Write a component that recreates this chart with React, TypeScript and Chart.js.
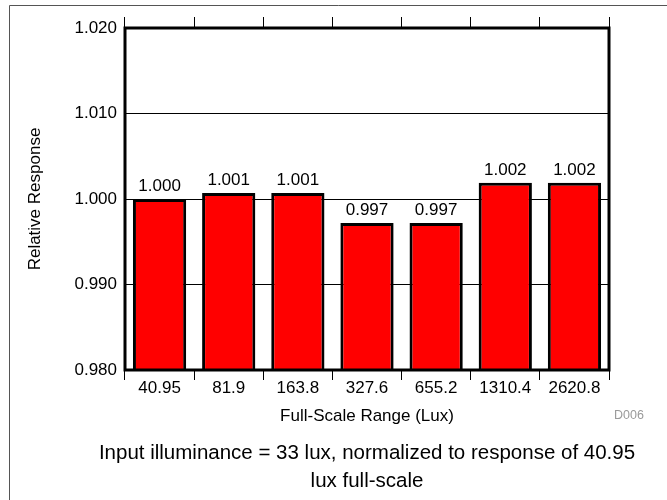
import React, { useEffect, useRef } from "react";
import { Chart, registerables } from "chart.js";

Chart.register(...registerables);

const categories = ["40.95", "81.9", "163.8", "327.6", "655.2", "1310.4", "2620.8"];
const relativeResponse = [1.0, 1.0007, 1.0007, 0.9972, 0.9972, 1.0019, 1.0019];
const valueLabels = ["1.000", "1.001", "1.001", "0.997", "0.997", "1.002", "1.002"];
const yMin = 0.98;
const yMax = 1.02;
const yStep = 0.01;
const yTitle = "Relative Response";
const xTitle = "Full-Scale Range (Lux)";
const captionLines = ["Input illuminance = 33 lux, normalized to response of 40.95", "lux full-scale"];
const docId = "D006";

const FONT = "'Liberation Sans', Arial, Helvetica, sans-serif";

const decorPlugin = {
  id: "decor",
  beforeDraw(chart: any) {
    const ctx = chart.ctx;
    ctx.save();
    ctx.fillStyle = "#fff";
    ctx.fillRect(0, 0, chart.width, chart.height);
    ctx.strokeStyle = "#555";
    ctx.lineWidth = 1;
    ctx.beginPath();
    ctx.moveTo(9.5, chart.height);
    ctx.lineTo(9.5, 5.5);
    ctx.lineTo(chart.width, 5.5);
    ctx.stroke();
    ctx.restore();
  },
  afterDatasetsDraw(chart: any) {
    const ctx = chart.ctx;
    const area = chart.chartArea;
    ctx.save();
    // plot frame
    ctx.strokeStyle = "#000";
    ctx.lineWidth = 3;
    ctx.strokeRect(area.left, area.top, area.right - area.left, area.bottom - area.top);
    // value labels
    const meta = chart.getDatasetMeta(0);
    ctx.fillStyle = "#000";
    ctx.font = `17px ${FONT}`;
    ctx.textAlign = "center";
    ctx.textBaseline = "alphabetic";
    meta.data.forEach((bar: any, i: number) => {
      ctx.fillText(valueLabels[i], bar.x, bar.y - 8);
    });
    // doc id
    ctx.fillStyle = "#9a9a9a";
    ctx.font = `12.5px ${FONT}`;
    ctx.textBaseline = "middle";
    ctx.fillText(docId, 629, 416);
    // caption
    ctx.fillStyle = "#000";
    ctx.font = `20.5px ${FONT}`;
    captionLines.forEach((line, i) => {
      ctx.fillText(line, 367, 453 + i * 28);
    });
    ctx.restore();
  },
};

export default function App() {
  const canvasRef = useRef<HTMLCanvasElement | null>(null);

  useEffect(() => {
    if (!canvasRef.current) return;
    const chart = new Chart(canvasRef.current, {
      type: "bar",
      data: {
        labels: categories,
        datasets: [
          {
            data: relativeResponse,
            backgroundColor: "#ff0000",
            borderColor: "#000000",
            borderWidth: 3,
            borderSkipped: false,
            barPercentage: 0.77,
            categoryPercentage: 1.0,
          },
        ],
      },
      options: {
        responsive: false,
        animation: false,
        devicePixelRatio: 1,
        layout: { padding: { left: 0, right: 58, top: 0, bottom: 70 } },
        plugins: {
          legend: { display: false },
          tooltip: { enabled: false },
          title: { display: false },
        },
        scales: {
          x: {
            type: "category",
            position: "bottom",
            offset: true,
            grid: {
              display: true,
              offset: true,
              drawOnChartArea: false,
              drawTicks: true,
              tickLength: 10,
              color: "#000",
              lineWidth: 1,
            },
            border: { display: false },
            ticks: {
              color: "#000",
              font: { family: FONT, size: 17 },
              padding: -2,
              maxRotation: 0,
              autoSkip: false,
            },
            title: {
              display: true,
              text: xTitle,
              color: "#000",
              font: { family: FONT, size: 17 },
              padding: { top: 0, bottom: 3 },
            },
            afterFit(scale: any) {
              scale.height = 60;
            },
          },
          xTop: {
            type: "category",
            position: "top",
            offset: true,
            grid: {
              display: true,
              offset: true,
              drawOnChartArea: false,
              drawTicks: true,
              tickLength: 11,
              color: "#000",
              lineWidth: 1,
            },
            border: { display: false },
            ticks: { display: false },
            afterFit(scale: any) {
              scale.height = 28;
            },
          },
          y: {
            type: "linear",
            position: "left",
            min: yMin,
            max: yMax,
            grid: {
              display: true,
              drawTicks: false,
              color: "#000",
              lineWidth: 1,
            },
            border: { display: false },
            ticks: {
              stepSize: yStep,
              color: "#000",
              padding: 8,
              font: { family: FONT, size: 17 },
              callback: (v: any) => Number(v).toFixed(3),
            },
            title: {
              display: true,
              text: yTitle,
              color: "#000",
              font: { family: FONT, size: 17 },
              padding: { top: 25, bottom: 0 },
            },
            afterFit(scale: any) {
              scale.width = 125;
            },
          },
        },
      },
      plugins: [decorPlugin],
    });
    return () => chart.destroy();
  }, []);

  return (
    <div style={{ position: "absolute", left: 0, top: 0, width: 667, height: 500 }}>
      <canvas ref={canvasRef} width={667} height={500} />
    </div>
  );
}
